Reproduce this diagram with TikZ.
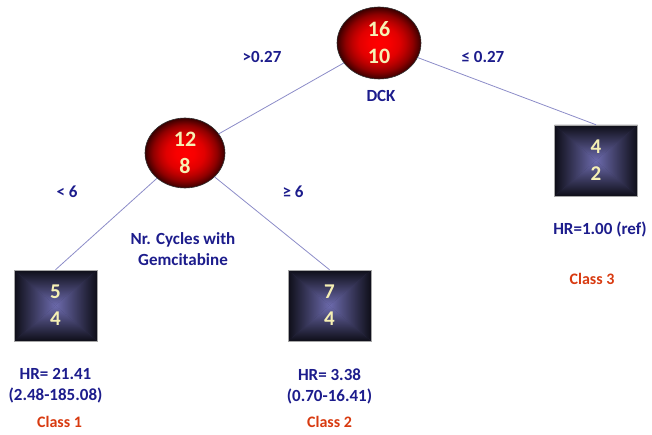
\documentclass[tikz,border=0pt]{standalone}
\usepackage{fontspec}
\setmainfont{Carlito}
\usetikzlibrary{shapes.geometric}
\definecolor{numcol}{HTML}{F6F0B4}
\definecolor{labcol}{HTML}{1C1C8C}
\definecolor{classcol}{HTML}{D83A10}
\definecolor{edgecol}{HTML}{8C8CC8}
\definecolor{sqdark}{HTML}{0E0E18}
\definecolor{sqmid}{HTML}{34345A}
\definecolor{sqlight}{HTML}{6C6AAC}
\pgfdeclareradialshading{redball}{\pgfpoint{0bp}{0bp}}{color(0bp)=(red); color(6bp)=(red!97!black); color(12bp)=(red!88!black); color(16bp)=(red!74!black); color(20bp)=(red!56!black); color(23bp)=(red!36!black); color(25bp)=(red!22!black); color(50bp)=(red!22!black)}
\begin{document}
\begin{tikzpicture}[x=1pt,y=-1pt,
  circnode/.style={ellipse, draw=black!80, line width=0.6pt, shade, shading=redball,
    minimum width=84pt, minimum height=72pt, inner sep=0pt, align=center,
    text=numcol, font=\bfseries\fontsize{22}{27}\selectfont},
  sqnode/.style={rectangle, draw=black!35, line width=0.5pt,
    minimum width=83pt, minimum height=71pt, inner sep=0pt, align=center,
    text=numcol, font=\bfseries\fontsize{21}{27}\selectfont,
    path picture={
      \coordinate (pc) at (path picture bounding box.center);
      \fill[sqmid] (path picture bounding box.north west) rectangle (path picture bounding box.south east);
      \shade[top color=sqdark, bottom color=sqlight] (path picture bounding box.north west) -- (path picture bounding box.north east) -- (pc) -- cycle;
      \shade[bottom color=sqdark, top color=sqlight] (path picture bounding box.south west) -- (path picture bounding box.south east) -- (pc) -- cycle;
      \shade[left color=sqdark, right color=sqlight] (path picture bounding box.north west) -- (path picture bounding box.south west) -- (pc) -- cycle;
      \shade[right color=sqdark, left color=sqlight] (path picture bounding box.north east) -- (path picture bounding box.south east) -- (pc) -- cycle;
    }},
  lab/.style={text=labcol, font=\bfseries\fontsize{17}{21}\selectfont, align=center, inner sep=0pt},
  cls/.style={text=classcol, font=\bfseries\fontsize{16}{20}\selectfont, inner sep=0pt},
  edge/.style={draw=edgecol, line width=0.8pt}]
\useasboundingbox (0,0) rectangle (652,435);

\node[circnode] (root) at (379,43) {16\\10};
\node[circnode, minimum width=80pt, minimum height=70pt] (n1) at (185,153) {12\\8};
\node[sqnode] (sq1) at (55.5,305.5) {5\\4};
\node[sqnode] (sq2) at (329.5,305.5) {7\\4};
\node[sqnode] (sq3) at (596,160.5) {4\\2};

\draw[edge] (root) -- (n1);
\draw[edge] (root) -- (sq3.north);
\draw[edge] (n1) -- (sq1.north);
\draw[edge] (n1) -- (sq2.north);

\node[lab] (dck) at (381,96) {DCK};
\node[lab] (e1) at (262,57) {>0.27};
\node[lab] (e2) at (483,57) {≤ 0.27};
\node[lab] (e3) at (67,192) {< 6};
\node[lab] (e4) at (293,192) {≥ 6};
\node[lab] (nrc) at (183,249) {Nr. Cycles with\\Gemcitabine};

\node[lab] (hr3) at (600,229) {HR=1.00 (ref)};
\node[cls] (c3) at (592,279) {Class 3};
\node[lab] (hr1) at (55.5,386) {HR= 21.41\\(2.48-185.08)};
\node[cls] (c1) at (59.5,422) {Class 1};
\node[lab] (hr2) at (329.5,386) {HR= 3.38\\(0.70-16.41)};
\node[cls] (c2) at (329.5,422) {Class 2};
\end{tikzpicture}
\end{document}
